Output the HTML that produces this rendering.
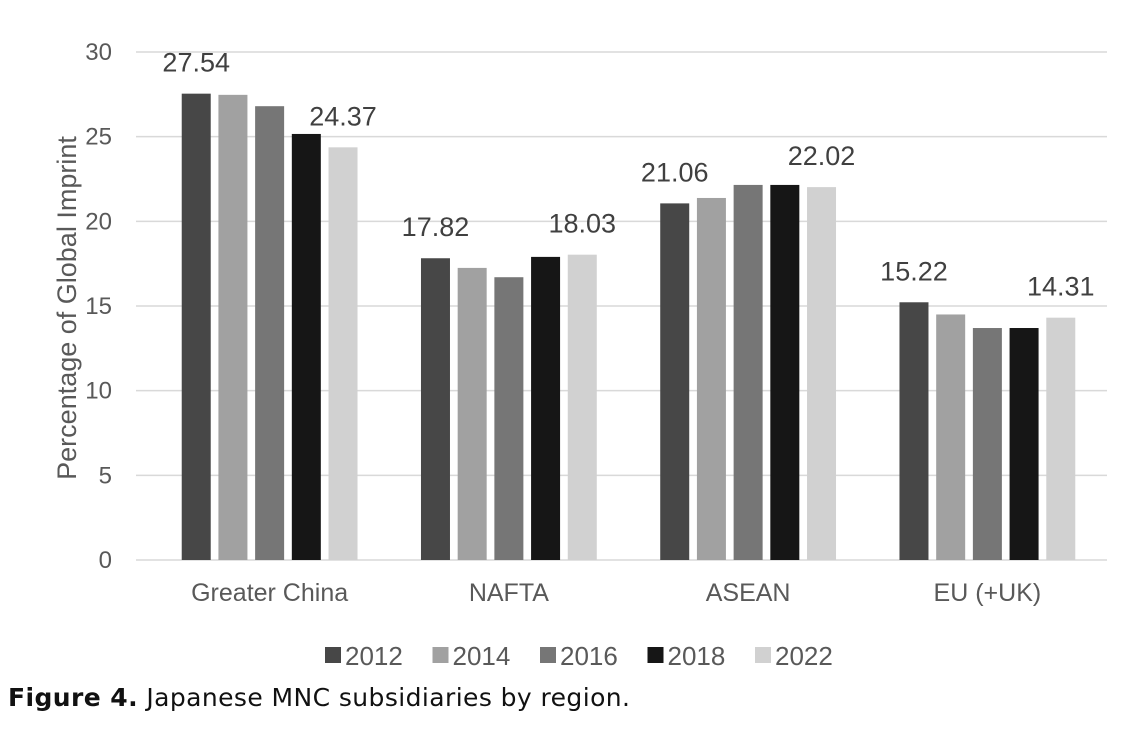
<!DOCTYPE html>
<html><head><meta charset="utf-8"><style>
body{margin:0;background:#fff;width:1128px;height:734px;overflow:hidden}
svg{display:block}
text{font-family:"Liberation Sans",sans-serif}
</style></head><body>
<svg id="chart" width="1128" height="734">
<g id="grid"></g>
<g id="yticks"></g>
<g id="bars"></g>
<g id="labels"></g>
<g id="xticks"></g>
<text transform="translate(76,308) rotate(-90)" text-anchor="middle" font-size="27" fill="#595959">Percentage of Global Imprint</text>
<g id="legend"></g>
<text x="8" y="706" font-size="25" fill="#111" style="font-family:'DejaVu Sans','Liberation Sans',sans-serif" textLength="622"><tspan font-weight="bold">Figure 4.</tspan> Japanese MNC subsidiaries by region.</text>
</svg>
<script>
const categories=["Greater China","NAFTA","ASEAN","EU (+UK)"];
const years=["2012","2014","2016","2018","2022"];
const s2012=[27.54,17.82,21.06,15.22];
const s2014=[27.47,17.25,21.38,14.5];
const s2016=[26.8,16.7,22.15,13.7];
const s2018=[25.16,17.9,22.15,13.7];
const s2022=[24.37,18.03,22.02,14.31];
const yTicks=[0,5,10,15,20,25,30];
const shownLabels=[0,4];
const series=[s2012,s2014,s2016,s2018,s2022];
const colors=["#474747","#a1a1a1","#767676","#161616","#d1d1d1"];
const NS="http://www.w3.org/2000/svg";
const y0=560,y1=52,left=150,right=1107,gridLeft=136;
const yScale=v=>y0-(v/30)*(y0-y1);
const groupW=(right-left)/categories.length;
const barW=29,step=36.7;
const xBar=(c,s)=>left+groupW*c+groupW/2+(s-2)*step-barW/2;
function mk(tag,attrs,parent){const e=document.createElementNS(NS,tag);for(const k in attrs)e.setAttribute(k,attrs[k]);document.getElementById(parent).appendChild(e);return e;}
yTicks.forEach(t=>{
 const l=mk("line",{x1:gridLeft,x2:right,y1:yScale(t),y2:yScale(t),stroke:"#d9d9d9","stroke-width":1.5},"grid");
 
 
 const tx=mk("text",{x:112,y:yScale(t)+8,"text-anchor":"end","font-size":24,fill:"#595959"},"yticks");
 tx.textContent=t;
 
 
});
categories.forEach((cat,c)=>{
 series.forEach((ser,s)=>{
  const v=ser[c];
  const r=mk("rect",{x:xBar(c,s),y:yScale(v),width:barW,height:y0-yScale(v),fill:colors[s]},"bars");
  
  
  if(shownLabels.includes(s)){
   const t=mk("text",{x:xBar(c,s)+barW/2,y:yScale(v)-22,"text-anchor":"middle","font-size":27,fill:"#404040"},"labels");
   t.textContent=v.toFixed(2);
   
   
  }
 });
 const t=mk("text",{x:left+groupW*c+groupW/2,y:y0+41,"text-anchor":"middle","font-size":25,fill:"#595959"},"xticks");
 t.textContent=cat;
 
 
});
years.forEach((yr,i)=>{
 const x=325+i*107.5;
 const r=mk("rect",{x:x,y:647,width:16,height:16,fill:colors[i]},"legend");
 
 
 const t=mk("text",{x:x+20,y:665,"font-size":26,fill:"#595959"},"legend");
 t.textContent=yr;
 
 
});
</script>
</body></html>
